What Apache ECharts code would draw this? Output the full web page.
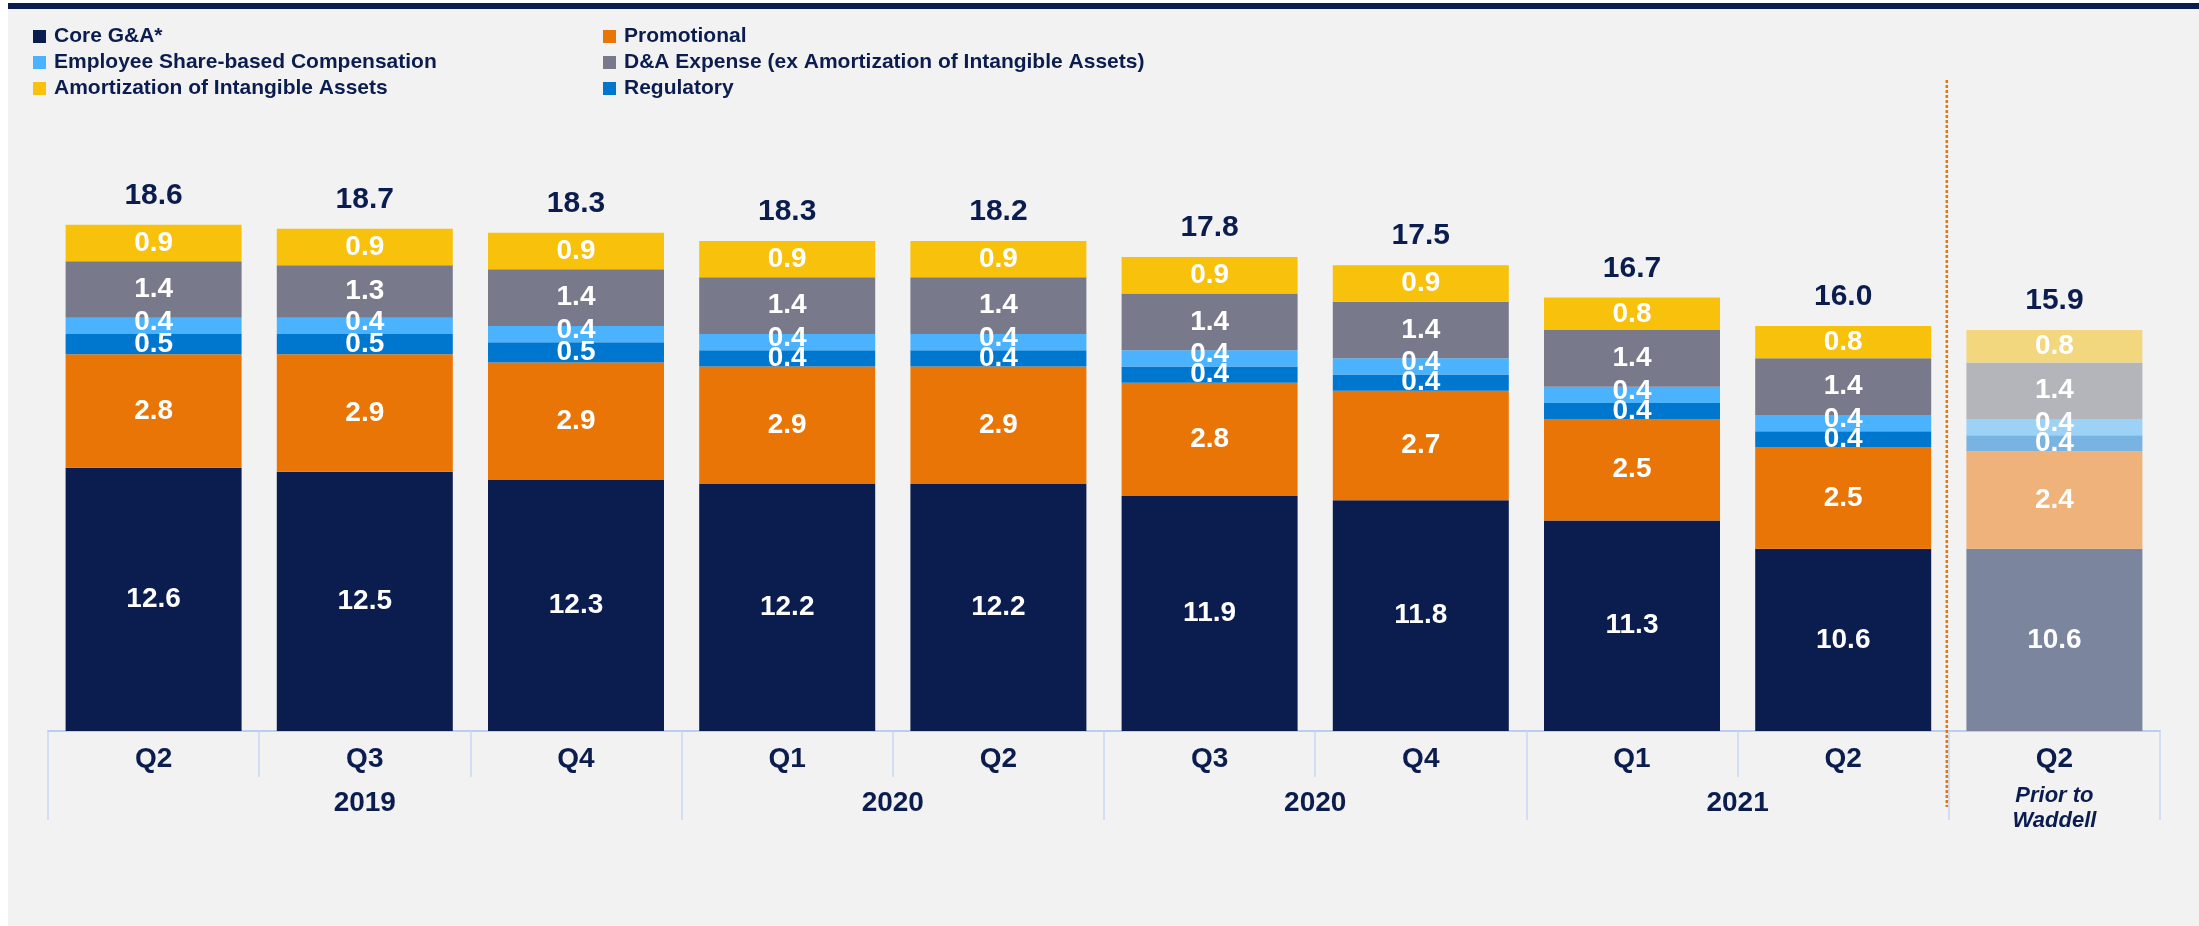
<!DOCTYPE html>
<html><head><meta charset="utf-8">
<script src="https://cdn.jsdelivr.net/npm/echarts@6/dist/echarts.min.js"></script>
<style>html,body{margin:0;padding:0;background:#fff}#c{width:2199px;height:926px}</style>
</head><body><div id="c"></div>
<script>
// ---- data ----
const quarters = ['Q2','Q3','Q4','Q1','Q2','Q3','Q4','Q1','Q2','Q2'];
const yearLabels = ['2019','2020','2020','2021','Prior to\nWaddell'];
const yearSpans = [3,2,2,2,1];
const coreGA       = [12.6,12.5,12.3,12.2,12.2,11.9,11.8,11.3,10.6,10.6];
const promotional  = [2.8,2.9,2.9,2.9,2.9,2.8,2.7,2.5,2.5,2.4];
const regulatory   = [0.5,0.5,0.5,0.4,0.4,0.4,0.4,0.4,0.4,0.4];
const shareComp    = [0.4,0.4,0.4,0.4,0.4,0.4,0.4,0.4,0.4,0.4];
const daExpense    = [1.4,1.3,1.4,1.4,1.4,1.4,1.4,1.4,1.4,1.4];
const amortization = [0.9,0.9,0.9,0.9,0.9,0.9,0.9,0.8,0.8,0.8];
const totals       = [18.6,18.7,18.3,18.3,18.2,17.8,17.5,16.7,16.0,15.9];
const highlightOff = [9]; // index of faded "Prior to Waddell" bar

// ---- styling ----
const NAVY = '#0b1d4e';
const FONT = "'Liberation Sans', Arial, Helvetica, sans-serif";

// axis structure from year groups
const bounds = [0];
yearSpans.forEach(s => bounds.push(bounds[bounds.length-1] + s));
const centers = yearSpans.map((s,i) => bounds[i] + s/2);

function makeSeries(name, values, color, faded, labelOffset) {
  return {
    name: name, type: 'bar', stack: 'total', barWidth: 176,
    xAxisIndex: 0, yAxisIndex: 0,
    itemStyle: { color: color },
    label: {
      show: true, position: 'inside', color: '#fff',
      fontFamily: FONT, fontWeight: 'bold', fontSize: 28,
      offset: labelOffset || [0,0],
      formatter: p => Number(p.value).toFixed(1)
    },
    data: values.map((v,i) => highlightOff.includes(i) ? { value: v, itemStyle: { color: faded } } : v)
  };
}

const series = [
  makeSeries('Core G&A*', coreGA, '#0b1d4e', '#7b859d'),
  makeSeries('Promotional', promotional, '#e97506', '#efb27b'),
  makeSeries('Regulatory', regulatory, '#0077cf', '#79b3e1'),
  makeSeries('Employee Share-based Compensation', shareComp, '#4bb2fd', '#9dd2f7', [0,-4]),
  makeSeries('D&A Expense (ex Amortization of Intangible Assets)', daExpense, '#787a8b', '#b3b5bb'),
  makeSeries('Amortization of Intangible Assets', amortization, '#f7c10c', '#f3d77f'),
  {
    name: 'Total', type: 'bar', stack: 'total', barWidth: 176,
    itemStyle: { color: 'transparent' },
    label: {
      show: true, position: 'top', distance: 14, color: NAVY,
      fontFamily: FONT, fontWeight: 'bold', fontSize: 30,
      formatter: p => totals[p.dataIndex].toFixed(1)
    },
    data: totals.map(() => 0)
  }
];

const legendText = { color: NAVY, fontFamily: FONT, fontWeight: 'bold', fontSize: 21, padding: [0,0,0,3] };
const tickStyle = { color: '#c8d7f5', width: 1.5 };

const option = {
  backgroundColor: '#f2f2f2',
  animation: false,
  grid: { left: 48, right: 39, top: 168, bottom: 195, containLabel: false },
  legend: [
    { left: 33, top: 26, orient: 'vertical', padding: 0, itemWidth: 13, itemHeight: 13, itemGap: 5,
      icon: 'rect', selectedMode: false, textStyle: legendText,
      data: ['Core G&A*', 'Employee Share-based Compensation', 'Amortization of Intangible Assets'] },
    { left: 603, top: 26, orient: 'vertical', padding: 0, itemWidth: 13, itemHeight: 13, itemGap: 5,
      icon: 'rect', selectedMode: false, textStyle: legendText,
      data: ['Promotional', 'D&A Expense (ex Amortization of Intangible Assets)', 'Regulatory'] }
  ],
  xAxis: [
    { type: 'category', data: quarters, position: 'bottom', boundaryGap: true,
      axisLine: { show: true, lineStyle: { color: '#bccdf0', width: 2 } },
      axisTick: { show: true, length: 46, alignWithLabel: false, lineStyle: tickStyle },
      axisLabel: { margin: 14, color: NAVY, fontFamily: FONT, fontWeight: 'bold', fontSize: 28, lineHeight: 28, interval: 0 },
      splitLine: { show: false } },
    { type: 'value', min: 0, max: bounds[bounds.length-1], position: 'bottom', offset: 0,
      axisLine: { show: false }, splitLine: { show: false },
      axisTick: { show: true, customValues: bounds, length: 89, lineStyle: tickStyle },
      axisLabel: { show: true, customValues: centers, margin: 58, color: NAVY,
        fontFamily: FONT, fontWeight: 'bold', fontSize: 28, lineHeight: 28,
        formatter: function (v) {
          const i = centers.findIndex(c => Math.abs(c - v) < 1e-6);
          const t = i >= 0 ? yearLabels[i] : '';
          if (t.indexOf('\n') >= 0) {
            const parts = t.split('\n');
            return '{a|' + parts[0] + '}\n{b|' + parts[1] + '}';
          }
          return t;
        },
        rich: {
          a: { fontStyle: 'italic', fontWeight: 'bold', fontSize: 22, lineHeight: 14, color: NAVY, fontFamily: FONT },
          b: { fontStyle: 'italic', fontWeight: 'bold', fontSize: 22, lineHeight: 36, color: NAVY, fontFamily: FONT }
        }
      } }
  ],
  yAxis: { type: 'value', min: 6.1, max: 20, show: false },
  graphic: [
    { id: 'wl', type: 'rect', shape: { x: 0, y: 0, width: 8, height: 926 }, style: { fill: '#ffffff' }, silent: true },
    { id: 'wt', type: 'rect', shape: { x: 0, y: 0, width: 2199, height: 3 }, style: { fill: '#ffffff' }, silent: true },
    { id: 'nav', type: 'rect', shape: { x: 8, y: 3, width: 2191, height: 6 }, style: { fill: NAVY }, silent: true }
  ],
  series: series
};

const chart = echarts.init(document.getElementById('c'), null, { renderer: 'canvas' });
chart.setOption(option);
const sepX = chart.convertToPixel({ xAxisIndex: 1 }, bounds[bounds.length-2]) - 2;
chart.setOption({
  graphic: [
    { id: 'sep', type: 'line', shape: { x1: sepX, y1: 80, x2: sepX, y2: 807 },
      style: { stroke: '#e97506', lineWidth: 2.5, lineDash: [3, 2] }, silent: true, z: 10 }
  ]
});
</script></body></html>
